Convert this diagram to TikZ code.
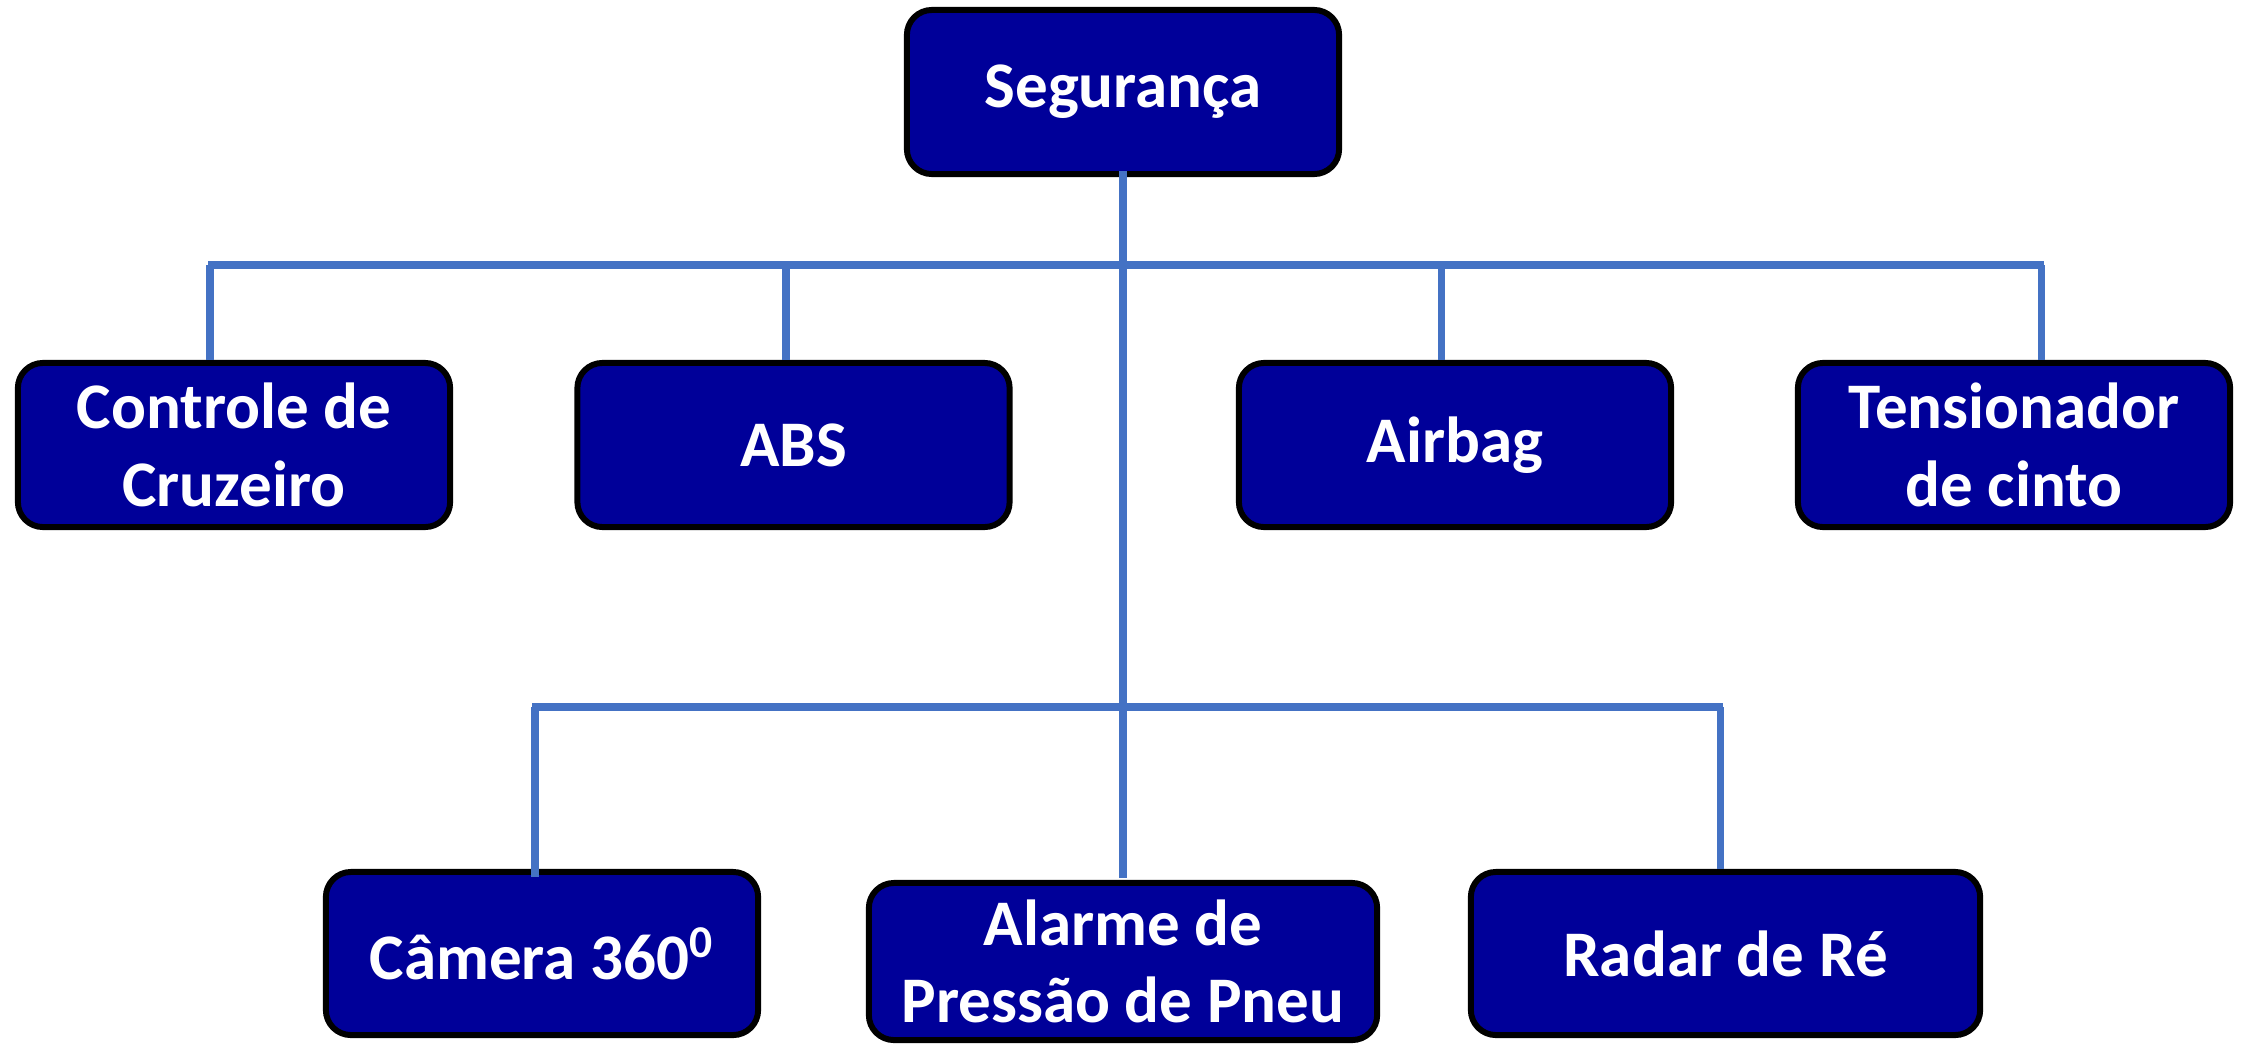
\documentclass[tikz,border=0pt]{standalone}
\usepackage{fontspec}
\setmainfont{Carlito}
\definecolor{boxfill}{HTML}{000099}
\definecolor{linkblue}{HTML}{4472C4}
\begin{document}
\begin{tikzpicture}[x=0.01cm,y=-0.01cm,
  box/.style={draw=black, line width=1.7pt, fill=boxfill, rounded corners=0.25cm,
    text=white, font=\bfseries\fontsize{18.5}{22}\selectfont, align=center,
    inner sep=0pt, minimum width=4.32cm, minimum height=1.64cm},
  link/.style={draw=linkblue, line width=2pt}]
\useasboundingbox (0,0) rectangle (2242,1045);
\coordinate (busA) at (208,265);
\coordinate (busB) at (2044,265);
\coordinate (busC) at (532,707);
\coordinate (busD) at (1723,707);
\coordinate (dCtrl) at (210,265);
\coordinate (dAbs) at (786,265);
\coordinate (dAir) at (1441,265);
\coordinate (dTens) at (2041,265);
\coordinate (dCam) at (535,707);
\coordinate (dRadar) at (1720,707);
\node[box] (seg) at (1123,92) {Segurança};
\node[box] (ctrl) at (234,445) {Controle de\\Cruzeiro};
\node[box] (abs) at (793.5,445) {ABS};
\node[box] (airbag) at (1455,445) {Airbag};
\node[box] (tens) at (2014,445) {Tensionador\\de cinto};
\node[box, minimum height=1.63cm] (cam) at (542,953.5) {Câmera 360\textsuperscript{0}};
\node[box, minimum width=5.08cm, minimum height=1.57cm] (alarm) at (1123,961.5) {Alarme de\\Pressão de Pneu};
\node[box, minimum width=5.09cm, minimum height=1.63cm] (radar) at (1725.5,953.5) {Radar de Ré};
\draw[link] (busA) -- (busB);
\draw[link] (busC) -- (busD);
\draw[link] ([yshift=0.06cm]seg.south) -- ([yshift=0.02cm]alarm.north);
\draw[link] (dCtrl) -- (dCtrl |- ctrl.north);
\draw[link] (dAbs) -- (dAbs |- abs.north);
\draw[link] (dAir) -- (dAir |- airbag.north);
\draw[link] (dTens) -- (dTens |- tens.north);
\draw[link] (dCam) -- ([yshift=-0.08cm]dCam |- cam.north);
\draw[link] (dRadar) -- (dRadar |- radar.north);
\end{tikzpicture}
\end{document}
